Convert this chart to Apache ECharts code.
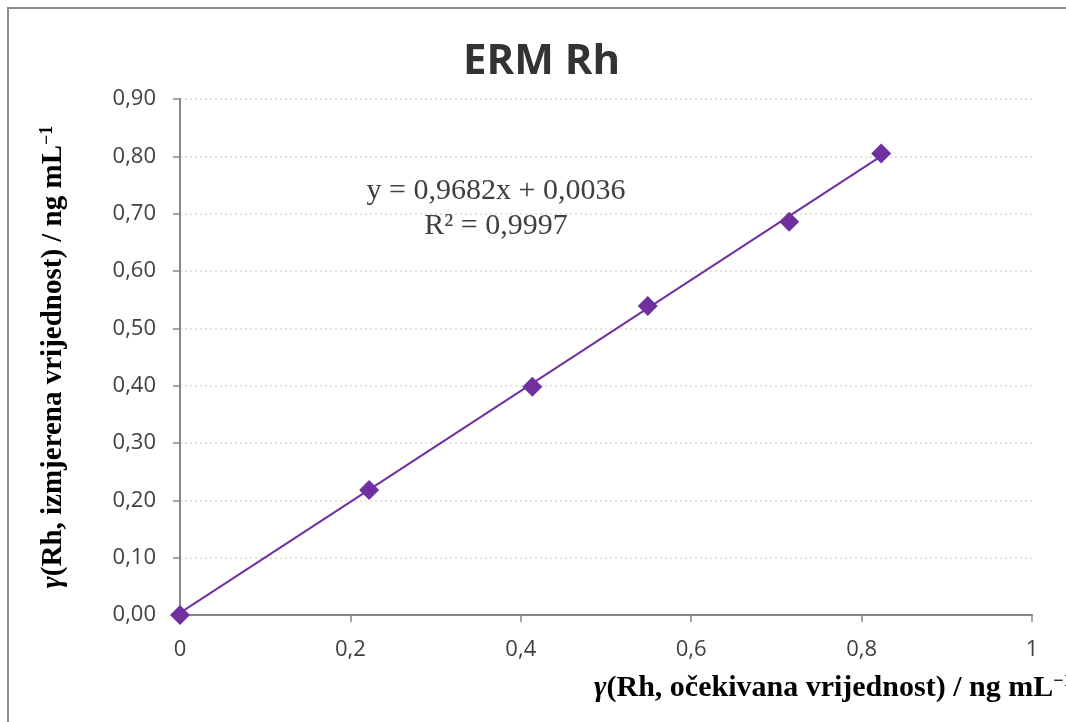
<!DOCTYPE html>
<html>
<head>
<meta charset="utf-8">
<script src="https://cdn.jsdelivr.net/npm/echarts@6/dist/echarts.min.js"></script>
<style>
html,body{margin:0;padding:0;background:#fff;}
#chart{width:1066px;height:722px;}
</style>
</head>
<body>
<div id="chart"></div>
<script>
// Data
const titleText = 'ERM Rh';
const expectedX = [0, 0.222, 0.4135, 0.549, 0.715, 0.823];
const measuredY = [0, 0.218, 0.398, 0.539, 0.686, 0.805];
const trendX = [0, 0.823];
const trendY = [0.0036, 0.8004];
const equationLines = ['y = 0,9682x + 0,0036', 'R² = 0,9997'];
const yTicks = [0, 0.1, 0.2, 0.3, 0.4, 0.5, 0.6, 0.7, 0.8, 0.9];
const xTicks = [0, 0.2, 0.4, 0.6, 0.8, 1];

const chart = echarts.init(document.getElementById('chart'), null, {renderer: 'canvas'});

const purple = '#7030A0';
const axisColor = '#868686';
const labelColor = '#404040';

const option = {
  backgroundColor: '#ffffff',
  animation: false,
  title: {
    text: titleText,
    left: 458,
    top: 36,
    textStyle: {fontFamily: 'Open Sans', fontWeight: 'bold', fontSize: 42, color: '#333333'}
  },
  grid: {left: 180, right: 34, top: 99, bottom: 107, containLabel: false},
  xAxis: {
    type: 'value', min: 0, max: 1, interval: 0.2,
    axisLine: {show: true, lineStyle: {color: axisColor, width: 2}},
    axisTick: {show: true, inside: false, length: 7, lineStyle: {color: axisColor, width: 1.5}},
    splitLine: {show: false},
    axisLabel: {
      margin: 24, fontFamily: 'Open Sans', fontSize: 22, color: labelColor,
      formatter: v => String(+v.toFixed(1)).replace('.', ',')
    }
  },
  yAxis: {
    type: 'value', min: 0, max: 0.9, interval: 0.1,
    axisLine: {show: true, lineStyle: {color: axisColor, width: 2}},
    axisTick: {show: true, inside: false, length: 7, lineStyle: {color: axisColor, width: 1.5}},
    splitLine: {show: true, lineStyle: {color: '#e4e4d4', width: 2, type: [2, 3]}},
    axisLabel: {
      margin: 24, fontFamily: 'Open Sans', fontSize: 22, color: labelColor,
      formatter: v => v.toFixed(2).replace('.', ',')
    }
  },
  series: [
    {
      type: 'line',
      data: trendX.map((x, i) => [x, trendY[i]]),
      showSymbol: false,
      symbol: 'none',
      lineStyle: {color: purple, width: 2},
      z: 2
    },
    {
      type: 'scatter',
      data: expectedX.map((x, i) => [x, measuredY[i]]),
      symbol: 'diamond',
      symbolSize: 20,
      itemStyle: {color: purple, opacity: 1},
      z: 3
    }
  ],
  graphic: [
    {
      type: 'rect', silent: true, z: 100,
      shape: {x: 8, y: 8, width: 1100, height: 800},
      style: {fill: 'none', stroke: '#8c8c8c', lineWidth: 2}
    },
    {
      type: 'text', z: 10,
      x: 496, y: 191,
      style: {text: equationLines[0], align: 'center', verticalAlign: 'middle',
        font: '30px "Liberation Serif"', fill: labelColor}
    },
    {
      type: 'text', z: 10,
      x: 496, y: 226,
      style: {text: equationLines[1], align: 'center', verticalAlign: 'middle',
        font: '30px "Liberation Serif"', fill: labelColor}
    },
    {
      type: 'text', z: 10,
      x: 594, y: 688,
      style: {
        text: '{g|γ}{n|(Rh, očekivana vrijednost) / ng mL}{s|−1}',
        align: 'left', verticalAlign: 'middle',
        rich: {
          g: {fontFamily: 'Liberation Serif', fontWeight: 'bold', fontStyle: 'italic', fontSize: 30, color: labelColor},
          n: {fontFamily: 'Liberation Serif', fontWeight: 'bold', fontSize: 30, color: labelColor},
          s: {fontFamily: 'Liberation Serif', fontWeight: 'bold', fontSize: 18, color: labelColor, verticalAlign: 'top', padding: [0, 0, 14, 0]}
        }
      }
    },
    {
      type: 'text', z: 10,
      x: 54, y: 357, rotation: Math.PI / 2,
      style: {
        text: '{g|γ}{n|(Rh, izmjerena vrijednost) / ng mL}{s|−1}',
        align: 'center', verticalAlign: 'middle',
        rich: {
          g: {fontFamily: 'Liberation Serif', fontWeight: 'bold', fontStyle: 'italic', fontSize: 29, color: labelColor},
          n: {fontFamily: 'Liberation Serif', fontWeight: 'bold', fontSize: 29, color: labelColor},
          s: {fontFamily: 'Liberation Serif', fontWeight: 'bold', fontSize: 18, color: labelColor, verticalAlign: 'top', padding: [0, 0, 14, 0]}
        }
      }
    }
  ]
};
chart.setOption(option);
</script>
</body>
</html>
